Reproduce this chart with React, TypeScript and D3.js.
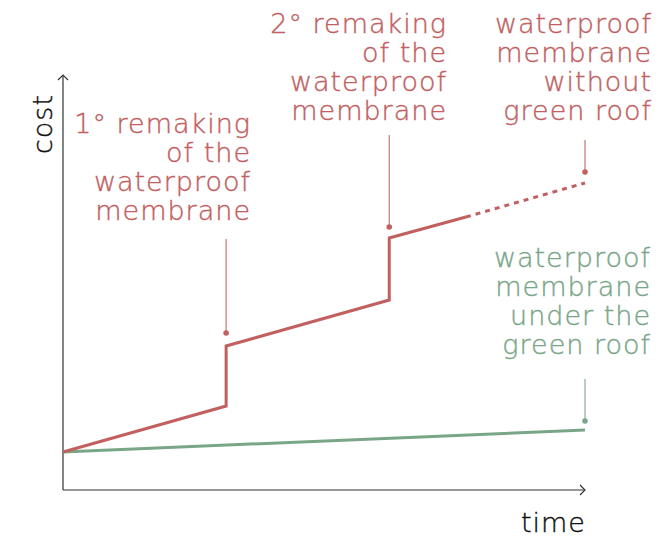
import * as d3 from 'd3'

// time units on x, cost units on y
const redSolid: [number, number][] = [
  [0, 3.8], [5, 8.4], [5, 14.4], [10, 19.0], [10, 25.2], [12.35, 27.3],
]
const redDashed: [number, number][] = [[12.35, 27.3], [16, 30.7]]
const greenLine: [number, number][] = [[0, 3.8], [16, 6.0]]

const annotations = [
  { lines: ['1° remaking', 'of the', 'waterproof', 'membrane'], x: 5, from: 25.1, to: 15.7, color: 'red' },
  { lines: ['2° remaking', 'of the', 'waterproof', 'membrane'], x: 10, from: 35.5, to: 26.3, color: 'red' },
  { lines: ['waterproof', 'membrane', 'without', 'green roof'], x: 16, from: 35.0, to: 31.8, color: 'red' },
  { lines: ['waterproof', 'membrane', 'under the', 'green roof'], x: 16, from: 11.1, to: 6.9, color: 'green' },
]

const RED = '#c1605f'
const GREEN = '#7aa688'
const FONT = '"DejaVu Sans", sans-serif'

export default function App() {
  const W = 671
  const H = 540
  const x = d3.scaleLinear().domain([0, 16]).range([63, 585])
  const y = d3.scaleLinear().domain([0, 41.5]).range([490, 75])
  const line = d3.line<[number, number]>().x((d) => x(d[0])).y((d) => y(d[1]))

  // label blocks: right edge + first baseline
  const labelPos = [
    { right: 251, top: 133 },
    { right: 447, top: 33 },
    { right: 652, top: 33 },
    { right: 651, top: 267 },
  ]

  const txt = { fontFamily: FONT, fontWeight: 300, fontSize: 27, letterSpacing: 1, strokeWidth: 0.4 }

  return (
    <svg width={W} height={H} style={{ position: 'absolute', left: 0, top: 0 }}>
      <rect width={W} height={H} fill="white" />
      {/* axes */}
      <g stroke="#333" strokeWidth={1.2} fill="none">
        <line x1={x(0)} y1={y(0)} x2={x(16)} y2={y(0)} />
        <line x1={x(0)} y1={y(0)} x2={x(0)} y2={y(41.5)} />
        <path d={`M${x(16) - 5},${y(0) - 5}L${x(16)},${y(0)}L${x(16) - 5},${y(0) + 5}`} />
        <path d={`M${x(0) - 5},${y(41.5) + 5}L${x(0)},${y(41.5)}L${x(0) + 5},${y(41.5) + 5}`} />
      </g>
      <text transform={`translate(52,124) rotate(-90)`} textAnchor="middle" {...txt} fill="#111" stroke="#111">cost</text>
      <text x={586} y={532} textAnchor="end" {...txt} fill="#111" stroke="#111">time</text>

      {/* lines */}
      <path d={line(greenLine)!} stroke={GREEN} strokeWidth={3} fill="none" />
      <path d={line(redSolid)!} stroke={RED} strokeWidth={3} fill="none" strokeLinejoin="miter" />
      <path d={line(redDashed)!} stroke={RED} strokeWidth={3} fill="none" strokeDasharray="5,5" />

      {/* annotations */}
      {annotations.map((a, i) => {
        const c = a.color === 'red' ? RED : GREEN
        const p = labelPos[i]
        return (
          <g key={i}>
            <line x1={x(a.x)} x2={x(a.x)} y1={y(a.from)} y2={y(a.to)} stroke={c} strokeOpacity={0.8} strokeWidth={1.3} />
            <circle cx={x(a.x)} cy={y(a.to)} r={2.8} fill={c} />
            <text textAnchor="end" {...txt} fill={c} stroke={c}>
              {a.lines.map((t, j) => (
                <tspan key={j} x={p.right} y={p.top + j * 29}>{t}</tspan>
              ))}
            </text>
          </g>
        )
      })}
    </svg>
  )
}
